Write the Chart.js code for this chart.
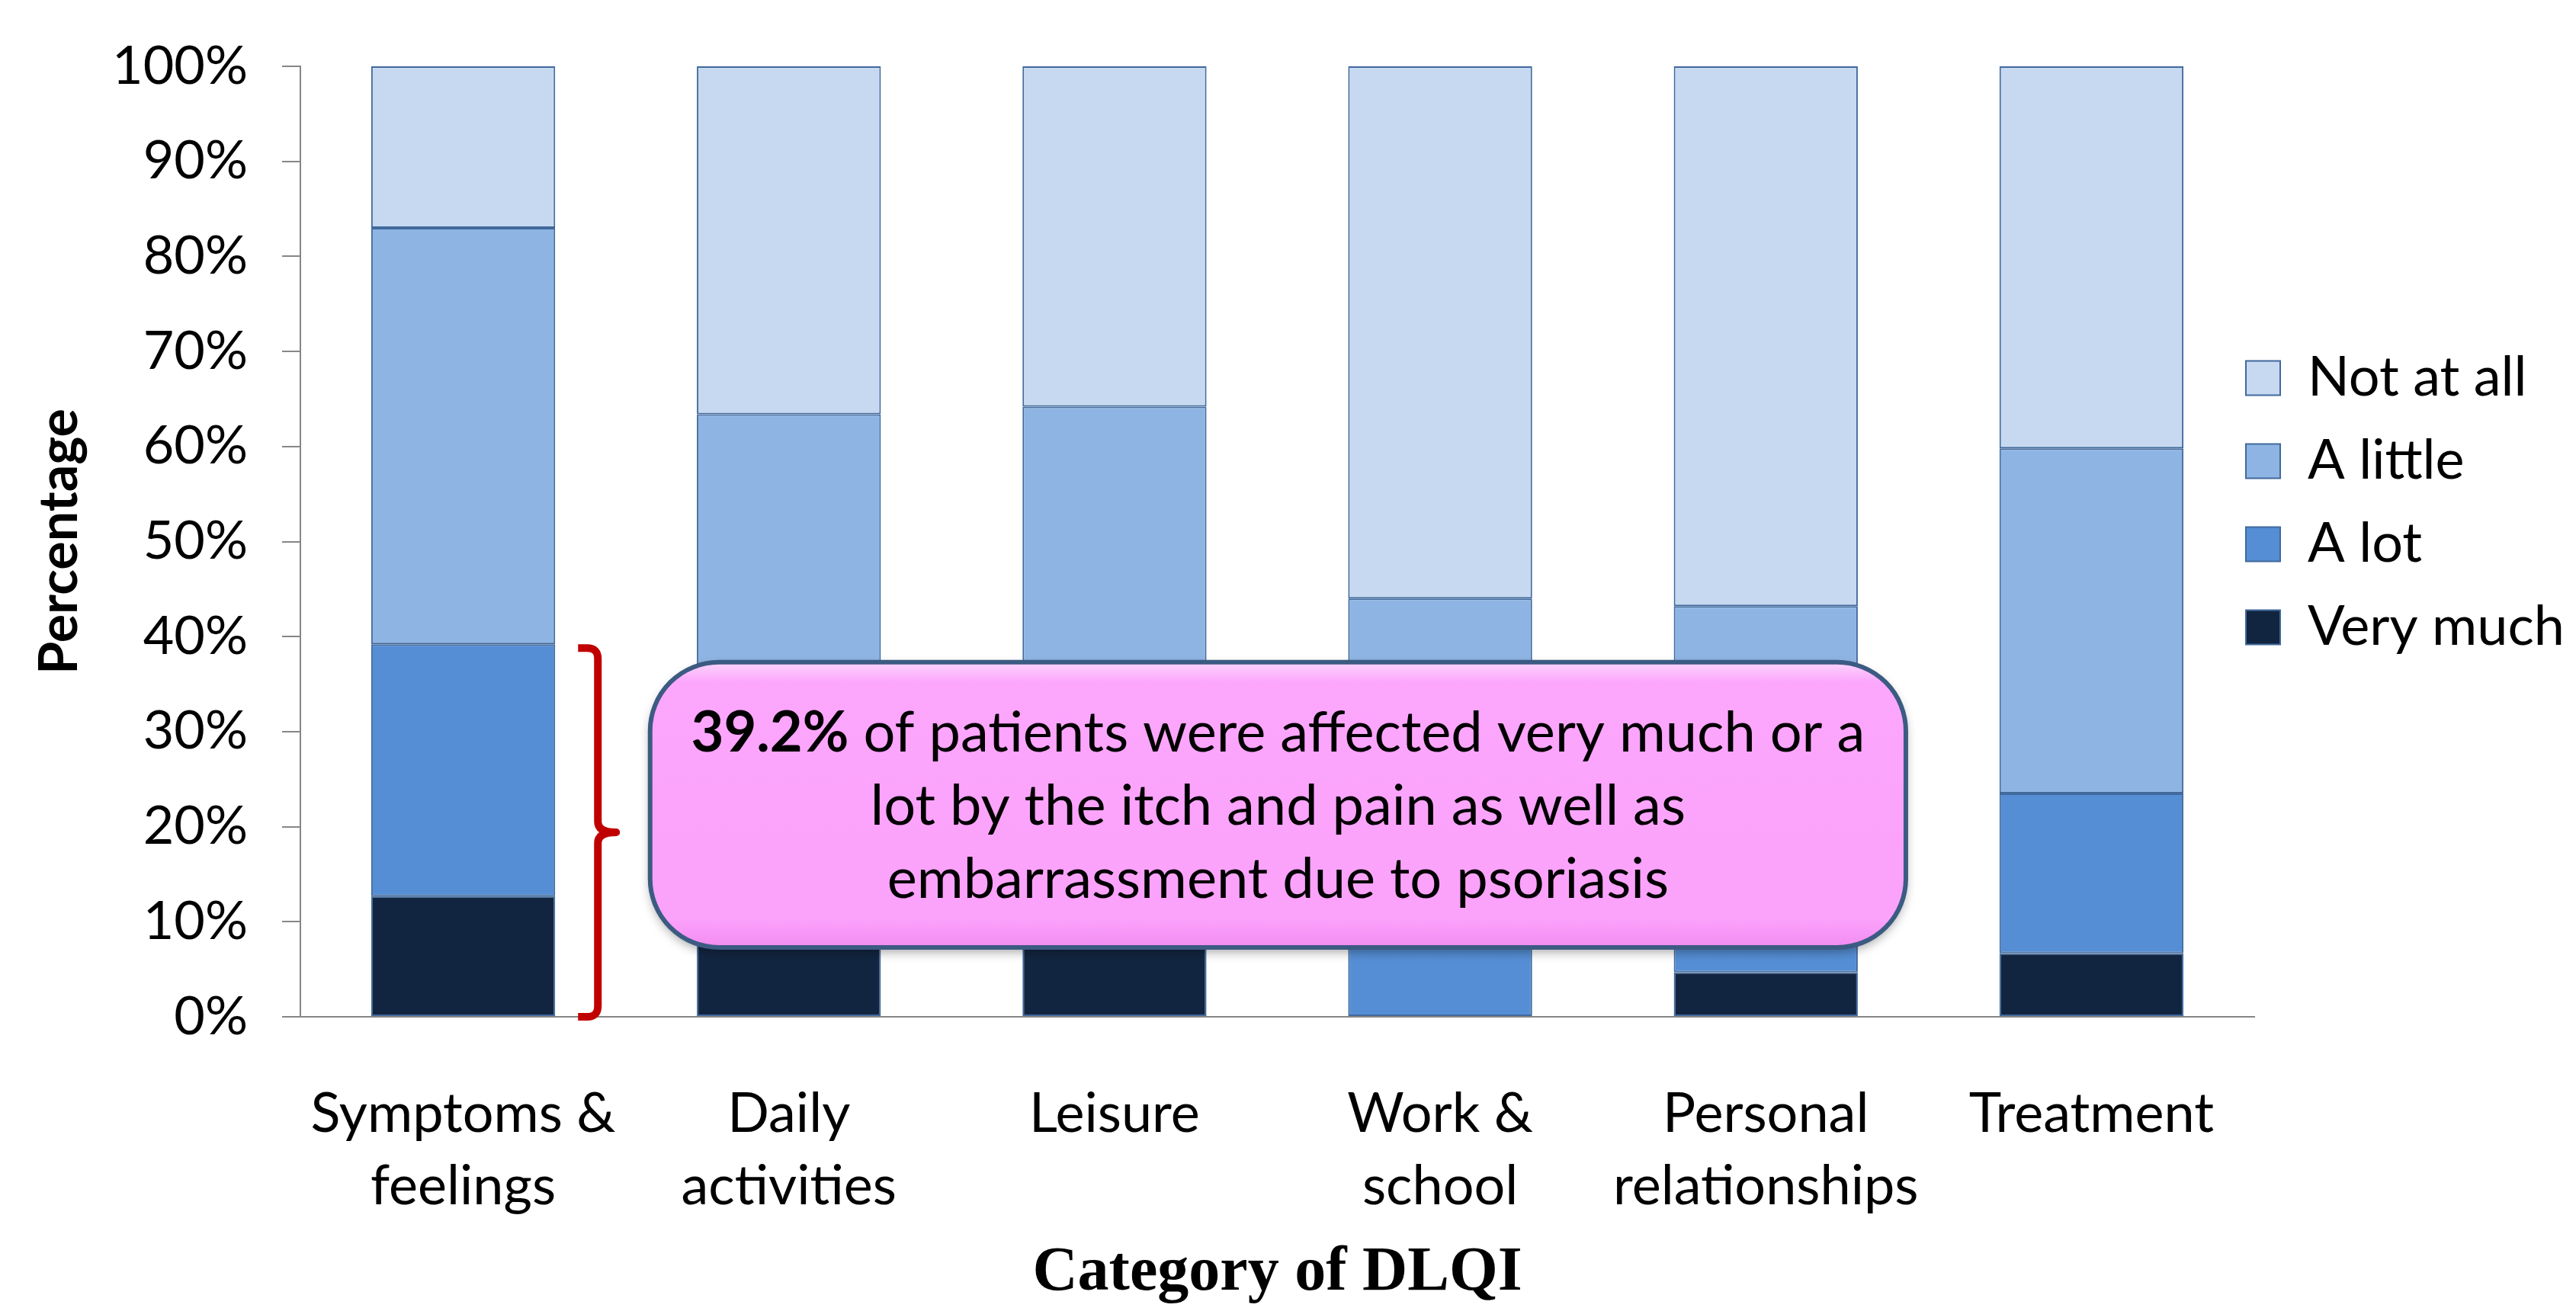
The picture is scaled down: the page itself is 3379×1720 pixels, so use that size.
<!DOCTYPE html>
<html>
<head>
<meta charset="utf-8">
<script src="https://cdn.jsdelivr.net/npm/chart.js@4.4.1/dist/chart.umd.min.js"></script>
<style>
  html, body { margin: 0; padding: 0; background: #fff; }
  #wrap { width: 3379px; height: 1720px; }
</style>
</head>
<body>
<div id="wrap"><canvas id="dlqiChart" width="3379" height="1720"></canvas></div>
<script>
const categories = [["Symptoms &", "feelings"], ["Daily", "activities"], ["Leisure"], ["Work &", "school"], ["Personal", "relationships"], ["Treatment"]];
const seriesNames = ["Very much", "A lot", "A little", "Not at all"];
const veryMuch = [12.7, 9.8, 10.5, 0, 4.7, 6.7];
const aLot = [26.5, 19.6, 16.4, 17.2, 13.5, 16.8];
const aLittle = [43.8, 34.0, 37.3, 26.8, 25.0, 36.3];
const notAtAll = [17.0, 36.6, 35.8, 56.0, 56.8, 40.2];
const calloutBold = "39.2%";
const calloutLines = [" of patients were affected very much or a", "lot by the itch and pain as well as", "embarrassment due to psoriasis"];

const colors = ["#122540", "#558ed5", "#8eb4e3", "#c6d9f1"];
const edge = "#41699c";
const sans = "Lato, 'Open Sans', sans-serif";

// red brace next to the first bar + pink callout box
const calloutPlugin = {
  id: "callout",
  afterDraw(chart) {
    const { ctx, scales: { x, y } } = chart;
    const bar = chart.getDatasetMeta(0).data[0];
    const barRight = bar.x + bar.width / 2;
    const top = y.getPixelForValue(veryMuch[0] + aLot[0]) + 5;
    const bottom = y.getPixelForValue(0);
    const mid = (top + bottom) / 2;
    const x0 = barRight + 30, x1 = barRight + 56, x2 = barRight + 80, r = 14;
    ctx.save();
    ctx.strokeStyle = "#c00000";
    ctx.lineWidth = 10;
    ctx.lineCap = "butt";
    ctx.lineJoin = "round";
    ctx.beginPath();
    ctx.moveTo(x0, top);
    ctx.lineTo(x1 - r, top);
    ctx.quadraticCurveTo(x1, top, x1, top + r);
    ctx.lineTo(x1, mid - r);
    ctx.quadraticCurveTo(x1, mid, x2, mid);
    ctx.quadraticCurveTo(x1, mid, x1, mid + r);
    ctx.lineTo(x1, bottom - r);
    ctx.quadraticCurveTo(x1, bottom, x1 - r, bottom);
    ctx.lineTo(x0, bottom);
    ctx.stroke();
    ctx.restore();

    const left = x.getPixelForValue(0.574), right = x.getPixelForValue(4.43);
    const bTop = y.getPixelForValue(37.3), bBot = y.getPixelForValue(7.3);
    ctx.save();
    ctx.beginPath();
    ctx.roundRect(left, bTop, right - left, bBot - bTop, 90);
    const g = ctx.createLinearGradient(0, bTop, 0, bBot);
    g.addColorStop(0, "#fdd6fd");
    g.addColorStop(0.07, "#fca6fc");
    g.addColorStop(0.9, "#fba2fb");
    g.addColorStop(1, "#f28cf2");
    ctx.shadowColor = "rgba(0,0,0,0.35)";
    ctx.shadowBlur = 14;
    ctx.shadowOffsetY = 6;
    ctx.fillStyle = g;
    ctx.fill();
    ctx.shadowColor = "transparent";
    ctx.lineWidth = 6;
    ctx.strokeStyle = "#3c5b82";
    ctx.stroke();

    const cx = (left + right) / 2, cy = (bTop + bBot) / 2 + 2, lh = 96;
    ctx.fillStyle = "#000";
    ctx.textBaseline = "middle";
    ctx.textAlign = "left";
    const boldFont = "bold 74px " + sans, normFont = "74px " + sans;
    ctx.font = boldFont;
    const wb = ctx.measureText(calloutBold).width;
    ctx.font = normFont;
    const wn = ctx.measureText(calloutLines[0]).width;
    const sx = cx - (wb + wn) / 2;
    ctx.font = boldFont;
    ctx.fillText(calloutBold, sx, cy - lh);
    ctx.font = normFont;
    ctx.fillText(calloutLines[0], sx + wb, cy - lh);
    ctx.textAlign = "center";
    ctx.fillText(calloutLines[1], cx, cy);
    ctx.fillText(calloutLines[2], cx, cy + lh);
    ctx.restore();
  }
};

// move the legend to where it sits in the original
const legendPlace = {
  id: "legendPlace",
  afterUpdate(chart) {
    const lg = chart.legend;
    const pad = lg.options.labels.padding;
    const dx = chart.chartArea.right - 11 - pad - lg.left;
    const dy = 423 - lg.top;
    lg.left += dx; lg.right += dx;
    lg.top += dy; lg.bottom += dy;
  }
};

const ctx = document.getElementById("dlqiChart").getContext("2d");
new Chart(ctx, {
  type: "bar",
  data: {
    labels: categories,
    datasets: [veryMuch, aLot, aLittle, notAtAll].map((d, i) => ({
      label: seriesNames[i],
      data: d,
      backgroundColor: colors[i],
      borderColor: edge,
      borderWidth: 2,
      borderSkipped: false,
      barPercentage: 0.565,
      categoryPercentage: 1
    }))
  },
  options: {
    responsive: false,
    animation: false,
    devicePixelRatio: 1,
    layout: { padding: { top: 86, right: 422, bottom: 0, left: 0 } },
    plugins: {
      tooltip: { enabled: false },
      legend: {
        position: "chartArea",
        align: "start",
        reverse: true,
        labels: {
          color: "#000",
          font: { family: sans, size: 72 },
          boxWidth: 45,
          boxHeight: 45,
          padding: 37
        }
      }
    },
    scales: {
      x: {
        stacked: true,
        grid: { display: false, drawTicks: false },
        border: { display: true, color: "#868686", width: 2 },
        ticks: { color: "#000", font: { family: sans, size: 72, lineHeight: 1.32 }, padding: 80, maxRotation: 0, autoSkip: false },
        title: { display: true, text: "Category of DLQI", color: "#000", font: { family: "'Liberation Serif', 'Times New Roman', serif", size: 82, weight: "bold", lineHeight: 1.2 }, padding: { top: 0, bottom: 0 } },
        afterFit(s) { s.height = 386; }
      },
      y: {
        stacked: true,
        min: 0,
        max: 100,
        grid: { drawOnChartArea: false, drawTicks: true, tickLength: 24, color: "#868686", lineWidth: 2 },
        border: { display: true, color: "#868686", width: 2 },
        ticks: { stepSize: 10, color: "#000", font: { family: sans, size: 70 }, padding: 45, callback: v => v + "%" },
        title: { display: true, text: "Percentage", color: "#000", font: { family: sans, size: 70, weight: "bold", lineHeight: 1.2 }, padding: { top: 36, bottom: 0 } },
        afterFit(s) { s.width = 394; }
      }
    }
  },
  plugins: [calloutPlugin, legendPlace]
});
</script>
</body>
</html>
